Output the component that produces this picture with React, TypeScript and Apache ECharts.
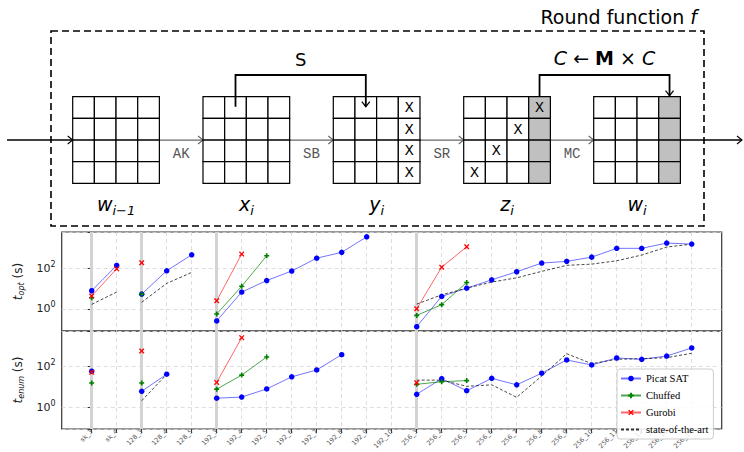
import React, { useEffect, useRef } from 'react';
import * as echarts from 'echarts';

const categories = [
  'sk_3', 'sk_4', '128_3', '128_4', '128_5',
  '192_3', '192_4', '192_5', '192_6', '192_7', '192_8', '192_9', '192_10',
  '256_3', '256_4', '256_5', '256_6', '256_7', '256_8', '256_9', '256_10',
  '256_11', '256_12', '256_13', '256_14',
];

const N = null;
// t_opt (s)
const optPicat = [7.8, 140, 5.3, 76, 470, 0.25, 6.7, 25, 74, 320, 620, 3650, N, 0.13, 4.1, 10.5, 27, 68, 183, 222, 360, 980, 980, 1790, 1590];
const optChuffed = [3.5, N, 5.3, N, N, 0.55, 13, 420, N, N, N, N, N, 0.47, 1.6, 20, N, N, N, N, N, N, N, N, N];
const optGurobi = [4.3, 95, 190, N, N, 2.5, 510, N, N, N, N, N, N, 1.0, 115, 1170, N, N, N, N, N, N, N, N, N];
const optSota = [1.65, 6.7, 2.1, 18, 63, N, N, N, N, N, N, N, N, 1.7, 4.9, 10.5, 21, 34, 71, 141, 162, 238, 455, 1130, 1590];

// t_enum (s)
const enumPicat = [60, N, 6.3, 43, N, 2.9, 3.3, 8.2, 32, 69, 385, N, N, 4.5, 26, 6.7, 27, 13, 48, 212, 121, 265, 229, 331, 820];
const enumChuffed = [16, N, 16, N, N, 8, 39, 296, N, N, N, N, N, 13.8, 18.5, 21, N, N, N, N, N, N, N, N, N];
const enumGurobi = [53, N, 580, N, N, 17, 2600, N, N, N, N, N, N, 16.5, N, N, N, N, N, N, N, N, N, N, N];
const enumSota = [N, N, 2.2, 42, N, N, N, N, N, N, N, N, N, 22, 22, 11, 13, 3.2, 35, 430, 140, 229, 245, 275, 450];

const seriesNames = ['Picat SAT', 'Chuffed', 'Gurobi', 'state-of-the-art'];

const PLUS = 'path://M2,0L4,0L4,2L6,2L6,4L4,4L4,6L2,6L2,4L0,4L0,2L2,2Z';
const CROSS = 'path://M0,1L1,0L3,2L5,0L6,1L4,3L6,5L5,6L3,4L1,6L0,5L2,3Z';

const styleOf: Record<string, any> = {
  'Picat SAT': { color: '#0000ff', symbol: 'circle', symbolSize: 5.5, lineType: 'solid', lineWidth: 1, lineOpacity: 0.55 },
  Chuffed: { color: '#008000', symbol: PLUS, symbolSize: 5, lineType: 'solid', lineWidth: 1, lineOpacity: 0.7 },
  Gurobi: { color: '#ff0000', symbol: CROSS, symbolSize: 5.5, lineType: 'solid', lineWidth: 1, lineOpacity: 0.6 },
  'state-of-the-art': { color: '#000000', symbol: 'none', symbolSize: 0, lineType: [3, 2], lineWidth: 0.9, lineOpacity: 0.8 },
};

const groupOf = (c: string) => c.split('_')[0];
const categoryIdx = categories.map((_, i) => i);
const groupStarts = categoryIdx.filter((i) => i === 0 || groupOf(categories[i]) !== groupOf(categories[i - 1]));

function buildData(values: (number | null)[]) {
  const out: any[] = [];
  values.forEach((v, i) => {
    if (i > 0 && groupOf(categories[i]) !== groupOf(categories[i - 1])) out.push([i - 0.5, '-']);
    out.push([i, v == null ? '-' : v]);
  });
  return out;
}

const powLabel = (v: number) => {
  const l = Math.log10(v);
  const e = Math.round(l);
  if (Math.abs(l - e) > 1e-6) return '';
  return `{b|10}{p|${e}}`;
};

const FONT = 'DejaVu Sans';

function buildDiagram() {
  const els: any[] = [];
  const L = [72.7, 203, 333.3, 463.7, 593.7];
  const T = 96.7;
  const C = 21.67;
  const S = C * 4;
  const ay = T + 2 * C;
  els.push({ type: 'rect', shape: { x: 51, y: 31, width: 653, height: 195 }, style: { fill: 'none', stroke: '#000', lineWidth: 1.6, lineDash: [7, 4] } });

  const segs: number[][] = [[7, L[0]]];
  for (let k = 0; k < 4; k++) segs.push([L[k] + S, L[k + 1]]);
  segs.push([L[4] + S, 742]);
  segs.forEach(([a, b], k) => {
    const outer = k === 0 || k === segs.length - 1;
    const col = outer ? '#000' : '#666';
    els.push({ type: 'line', shape: { x1: a, y1: ay, x2: b, y2: ay }, style: { stroke: col, lineWidth: outer ? 1.6 : 1.2 } });
    els.push({ type: 'polyline', shape: { points: [[b - 5, ay - 4], [b, ay], [b - 5, ay + 4]] }, style: { stroke: col, fill: 'none', lineWidth: 1.1 } });
  });
  const ops = ['AK', 'SB', 'SR', 'MC'];
  ops.forEach((t, k) => {
    const mid = (L[k] + S + L[k + 1]) / 2;
    els.push({ type: 'text', x: mid, y: ay + 14, style: { text: t, font: '14px "Liberation Mono"', fill: '#555', align: 'center', verticalAlign: 'middle', textAlign: 'center', textVerticalAlign: 'middle' } });
  });

  const shaded = [false, false, false, true, true];
  const xs: number[][][] = [[], [], [[0, 3], [1, 3], [2, 3], [3, 3]], [[0, 3], [1, 2], [2, 1], [3, 0]], []];
  L.forEach((l, k) => {
    for (let r = 0; r < 4; r++) {
      for (let c = 0; c < 4; c++) {
        els.push({ type: 'rect', shape: { x: l + c * C, y: T + r * C, width: C, height: C }, style: { fill: shaded[k] && c === 3 ? '#c0c0c0' : '#fff', stroke: '#000', lineWidth: 1.2 } });
      }
    }
    xs[k].forEach(([r, c]) => {
      els.push({ type: 'text', x: l + (c + 0.5) * C, y: T + (r + 0.5) * C + 1, style: { text: 'X', font: '15px "Liberation Mono"', fill: '#000', align: 'center', verticalAlign: 'middle', textAlign: 'center', textVerticalAlign: 'middle' } });
    });
  });
  const subRich = {
    v: { fontSize: 19, fontStyle: 'italic', fontFamily: FONT, lineHeight: 26, verticalAlign: 'middle' },
    s: { fontSize: 13, fontStyle: 'italic', fontFamily: FONT, lineHeight: 13, verticalAlign: 'bottom' },
  };
  const names = [['w', 'i−1'], ['x', 'i'], ['y', 'i'], ['z', 'i'], ['w', 'i']];
  names.forEach(([v, s], k) => {
    els.push({ type: 'text', x: L[k] + S / 2, y: 204, style: { text: `{v|${v}}{s|${s}}`, rich: subRich, fill: '#000', align: 'center', verticalAlign: 'middle', textAlign: 'center', textVerticalAlign: 'middle' } });
  });

  // S bracket
  const sx1 = L[1] + 1.5 * C;
  const sx2 = L[2] + 1.5 * C;
  els.push({ type: 'polyline', shape: { points: [[sx1, T + 10], [sx1, 75], [sx2, 75], [sx2, T + 10]] }, style: { stroke: '#000', fill: 'none', lineWidth: 1.8 } });
  els.push({ type: 'polyline', shape: { points: [[sx2 - 4, T + 5], [sx2, T + 10], [sx2 + 4, T + 5]] }, style: { stroke: '#000', fill: 'none', lineWidth: 1.2 } });
  els.push({ type: 'text', x: (sx1 + sx2) / 2, y: 59, style: { text: 'S', font: `18px "${FONT}"`, fill: '#000', align: 'center', verticalAlign: 'middle', textAlign: 'center', textVerticalAlign: 'middle' } });

  // MC bracket
  const cx1 = L[3] + 3.5 * C;
  const cx2 = L[4] + 3.5 * C;
  els.push({ type: 'polyline', shape: { points: [[cx1, T], [cx1, 75], [cx2, 75], [cx2, T - 1]] }, style: { stroke: '#000', fill: 'none', lineWidth: 1.8 } });
  els.push({ type: 'polyline', shape: { points: [[cx2 - 4, T - 6], [cx2, T - 1], [cx2 + 4, T - 6]] }, style: { stroke: '#000', fill: 'none', lineWidth: 1.2 } });
  els.push({
    type: 'text', x: (cx1 + cx2) / 2, y: 58,
    style: {
      text: '{i|C} ← {b|M} × {i|C}',
      rich: {
        i: { fontSize: 19, fontStyle: 'italic', fontFamily: FONT },
        b: { fontSize: 19, fontWeight: 'bold', fontFamily: FONT },
      },
      font: `19px "${FONT}"`, fill: '#000', align: 'center', verticalAlign: 'middle', textAlign: 'center', textVerticalAlign: 'middle',
    },
  });
  els.push({
    type: 'text', x: 697, y: 17,
    style: {
      text: 'Round function {i|f}',
      rich: { i: { fontSize: 19, fontStyle: 'italic', fontFamily: FONT } },
      font: `19px "${FONT}"`, fill: '#000', align: 'right', verticalAlign: 'middle', textAlign: 'right', textVerticalAlign: 'middle',
    },
  });
  return els;
}

const panels = [
  { values: [optPicat, optChuffed, optGurobi, optSota], top: 232, height: 99, logMin: -1.1, logMax: 3.8, sub: 'opt' },
  { values: [enumPicat, enumChuffed, enumGurobi, enumSota], top: 331, height: 98, logMin: -1.04, logMax: 3.74, sub: 'enum' },
];

const X_MIN = -1.2;
const X_MAX = 25.2;
const PLOT_LEFT = 61.7;
const PLOT_WIDTH = 660;

function buildOption() {
  const grids: any[] = [];
  const xAxes: any[] = [];
  const yAxes: any[] = [];
  const series: any[] = [];
  panels.forEach((p, gi) => {
    const isBottom = gi === panels.length - 1;
    grids.push({ left: PLOT_LEFT, width: PLOT_WIDTH, top: p.top, height: p.height, show: true, borderColor: '#333', borderWidth: 1.2, backgroundColor: 'transparent' });
    xAxes.push({
      gridIndex: gi, type: 'value', min: X_MIN, max: X_MAX,
      axisLine: { show: false },
      axisTick: { show: isBottom, customValues: categoryIdx, length: 4, lineStyle: { color: '#333', width: 1 } },
      axisLabel: { show: false, customValues: categoryIdx },
      splitLine: { show: true, lineStyle: { type: [4, 3], color: '#d6d6d6', width: 0.8 } },
    });
    yAxes.push({
      gridIndex: gi, type: 'log', logBase: 100, min: Math.pow(10, p.logMin), max: Math.pow(10, p.logMax), splitNumber: 2,
      axisLine: { show: false },
      axisTick: { show: true, length: 4, lineStyle: { color: '#333' } },
      axisLabel: {
        formatter: powLabel, margin: 6, color: '#222',
        rich: {
          b: { fontSize: 11, fontFamily: FONT, lineHeight: 16, color: '#222' },
          p: { fontSize: 8, fontFamily: FONT, lineHeight: 9, verticalAlign: 'top', color: '#222' },
        },
      },
      splitLine: { show: true, lineStyle: { type: [4, 3], color: '#d6d6d6', width: 0.8 } },
      name: `{i|t}{s|${p.sub}} (s)`, nameLocation: 'middle', nameGap: 28,
      nameTextStyle: {
        fontSize: 12, fontFamily: FONT, color: '#222', lineHeight: 16,
        rich: {
          i: { fontSize: 12, fontStyle: 'italic', fontFamily: FONT, lineHeight: 16, color: '#222' },
          s: { fontSize: 8, fontStyle: 'italic', fontFamily: FONT, lineHeight: 8, verticalAlign: 'bottom', color: '#222' },
        },
      },
    });
    series.push({
      type: 'line', name: '__guides' + gi, xAxisIndex: gi, yAxisIndex: gi, data: [], z: 1, silent: true,
      markLine: {
        silent: true, symbol: ['none', 'none'], label: { show: false }, z: 1, animation: false,
        lineStyle: { color: '#d3d3d3', width: 3, type: 'solid' },
        data: groupStarts.map((i) => ({ xAxis: i })),
      },
    });
    p.values.forEach((vals, si) => {
      const name = seriesNames[si];
      const st = styleOf[name];
      series.push({
        type: 'line', name, xAxisIndex: gi, yAxisIndex: gi, z: 10,
        data: buildData(vals),
        symbol: st.symbol, symbolSize: st.symbolSize, showSymbol: st.symbol !== 'none',
        itemStyle: { color: st.color },
        lineStyle: { color: st.color, width: st.lineWidth, type: st.lineType, opacity: st.lineOpacity },
        connectNulls: false,
      });
    });
  });

  // category label axis: bands of the same width as one x unit, centred on each index
  const unit = PLOT_WIDTH / (X_MAX - X_MIN);
  const bottom = panels[panels.length - 1];
  const labelGi = grids.length;
  grids.push({ left: PLOT_LEFT + (-0.5 - X_MIN) * unit, width: unit * categories.length, top: bottom.top, height: bottom.height, show: false });
  xAxes.push({
    gridIndex: labelGi, type: 'category', data: categories, boundaryGap: true,
    axisLine: { show: false }, axisTick: { show: false }, splitLine: { show: false },
    axisLabel: { interval: 0, rotate: 45, fontSize: 6.5, color: '#555', margin: 10, fontFamily: FONT },
  });
  yAxes.push({ gridIndex: labelGi, type: 'value', show: false });

  return {
    animation: false,
    backgroundColor: '#fff',
    textStyle: { fontFamily: FONT },
    grid: grids,
    xAxis: xAxes,
    yAxis: yAxes,
    series,
    legend: {
      data: seriesNames.map((n) => (styleOf[n].symbol === 'none' ? { name: n, itemStyle: { opacity: 0 } } : { name: n })),
      orient: 'vertical', left: 617, top: 369,
      itemWidth: 20, itemHeight: 7, itemGap: 6,
      backgroundColor: 'rgba(255,255,255,0.85)', borderColor: '#cccccc', borderWidth: 1, borderRadius: 3,
      padding: [4, 5, 4, 3],
      textStyle: { fontFamily: 'Liberation Serif', fontSize: 10.5, color: '#000' },
      z: 20,
    },
    graphic: { elements: buildDiagram() },
  };
}

export default function App() {
  const ref = useRef<HTMLDivElement>(null);
  useEffect(() => {
    if (!ref.current) return;
    const chart = echarts.init(ref.current, undefined, { renderer: 'svg' });
    chart.setOption(buildOption() as any);
    return () => chart.dispose();
  }, []);
  return <div ref={ref} style={{ position: 'absolute', left: 0, top: 0, width: 744, height: 452 }} />;
}
